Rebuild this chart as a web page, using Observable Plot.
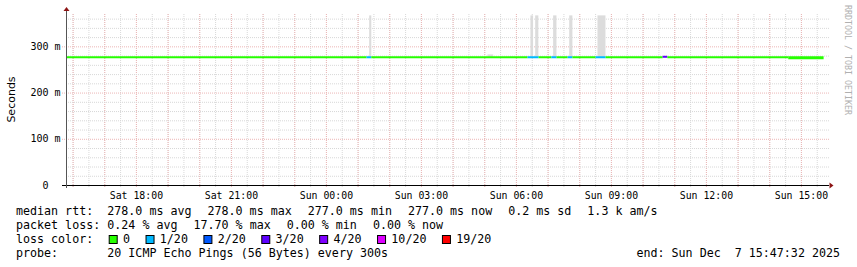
<!DOCTYPE html>
<html>
<head>
<meta charset="utf-8">
<script src="https://cdn.jsdelivr.net/npm/d3@7"></script>
<script src="https://cdn.jsdelivr.net/npm/@observablehq/plot@0.6"></script>
<style>
  html, body { margin: 0; padding: 0; background: #fff; }
  #wrap { width: 857px; height: 267px; position: relative; background: #fff; }
  svg text { white-space: pre; }
</style>
</head>
<body>
<div id="wrap"></div>
<script>
// ---------------- DATA ----------------
const startTime = "2025-12-06T15:47:32Z";
const endTime   = "2025-12-07T15:47:32Z";

// median rtt line: breakpoints, loss (pings lost of 20) and median (ms) per segment
const lineTimes = [
  "2025-12-06T15:49:00Z", "2025-12-07T01:17:00Z", "2025-12-07T01:26:00Z",
  "2025-12-07T06:22:00Z", "2025-12-07T06:43:00Z", "2025-12-07T07:07:00Z",
  "2025-12-07T07:17:00Z", "2025-12-07T07:38:00Z", "2025-12-07T07:47:00Z",
  "2025-12-07T08:31:00Z", "2025-12-07T08:50:00Z", "2025-12-07T10:38:00Z",
  "2025-12-07T10:47:00Z", "2025-12-07T14:36:00Z", "2025-12-07T15:43:00Z"
];
const segLoss   = [0, 1, 0, 1, 0, 1, 0, 1, 0, 1, 0, 3, 0, 0];
const segMedian = [277.5, 277.5, 277.5, 277.5, 277.5, 277.5, 277.5, 277.5, 277.5, 277.5, 277.5, 278.5, 277.5, 276.3];

// smoke (ping spread) in ms
const smokeStart = ["2025-12-07T01:22:00Z", "2025-12-07T05:06:00Z", "2025-12-07T06:27:30Z", "2025-12-07T06:36:30Z", "2025-12-07T07:10:30Z", "2025-12-07T07:41:00Z", "2025-12-07T08:34:30Z"];
const smokeEnd   = ["2025-12-07T01:26:00Z", "2025-12-07T05:17:00Z", "2025-12-07T06:32:30Z", "2025-12-07T06:42:30Z", "2025-12-07T07:16:50Z", "2025-12-07T07:47:00Z", "2025-12-07T08:49:40Z"];
const smokeLow   = [277.5, 277.5, 277.5, 277.5, 277.5, 277.5, 277.5];
const smokeHigh  = [367, 282.5, 367, 367, 367, 367, 367];

// axis ticks
const yTickValues = [0, 0.1, 0.2, 0.3];
const yTickLabels = ["0  ", "100 m", "200 m", "300 m"];
const xLabelTimes = ["2025-12-06T18:00:00Z", "2025-12-06T21:00:00Z", "2025-12-07T00:00:00Z", "2025-12-07T03:00:00Z", "2025-12-07T06:00:00Z", "2025-12-07T09:00:00Z", "2025-12-07T12:00:00Z", "2025-12-07T15:00:00Z"];
const yMinorGrid = [0.02, 0.04, 0.06, 0.08, 0.12, 0.14, 0.16, 0.18, 0.22, 0.24, 0.26, 0.28, 0.32, 0.34, 0.36];
const yMajorGrid = [0.1, 0.2, 0.3];

// legend
const lossKeys   = [0, 1, 2, 3, 4, 10, 19];
const lossLabels = ["0", "1/20", "2/20", "3/20", "4/20", "10/20", "19/20"];
const lossColors = ["#26ff00", "#00b8ff", "#0059ff", "#5e00ff", "#7e00ff", "#dd00ff", "#ff0000"];
const legendRows = [
  ["median rtt:", "278.0 ms avg", "278.0 ms max", "277.0 ms min", "277.0 ms now", "0.2 ms sd", "1.3 k am/s"],
  ["packet loss:", "0.24 % avg", "17.70 % max", "0.00 % min", "0.00 % now"],
  ["loss color:"],
  ["probe:", "20 ICMP Echo Pings (56 Bytes) every 300s"]
];
const endText = "end: Sun Dec  7 15:47:32 2025";
const yLabel = "Seconds";
const watermark = "RRDTOOL / TOBI OETIKER";

// ---------------- BUILD ----------------
const parse = s => new Date(s);
const t0 = parse(startTime), t1 = parse(endTime);
const colorOf = k => lossColors[lossKeys.indexOf(k)];

const segs = segLoss.map((l, i) => ({
  x1: parse(lineTimes[i]), x2: parse(lineTimes[i + 1]),
  y: segMedian[i] / 1000, loss: l, last: i === segLoss.length - 1
}));
const smoke = smokeStart.map((s, i) => ({
  x1: parse(s), x2: parse(smokeEnd[i]), y1: smokeLow[i] / 1000, y2: smokeHigh[i] / 1000
}));
const hourGrid = d3.utcHour.range(t0, t1);
const halfGrid = d3.utcMinute.every(30).range(t0, t1);
const fmt = d3.utcFormat("%a %H:%M");

const major = "#ecb6b6", minor = "#d8d8d8";

const plot = Plot.plot({
  width: 857, height: 200,
  marginLeft: 66, marginRight: 31, marginTop: 14, marginBottom: 15,
  style: { fontFamily: "DejaVu Sans Mono", fontSize: "10px", background: "white", color: "black", overflow: "visible" },
  x: { type: "utc", domain: [t0, t1] },
  y: { domain: [0, 0.37] },
  marks: [
    Plot.ruleX(halfGrid, { stroke: minor, strokeDasharray: "1,1", insetBottom: -3 }),
    Plot.ruleX(hourGrid, { stroke: major, strokeDasharray: "1,1", insetBottom: -3 }),
    Plot.ruleY(yMinorGrid, { stroke: minor, strokeDasharray: "1,1", insetRight: -3 }),
    Plot.ruleY(yMajorGrid, { stroke: major, strokeDasharray: "1,1", insetLeft: -4, insetRight: -3 }),
    Plot.rect(smoke, { x1: "x1", x2: "x2", y1: "y1", y2: "y2", fill: "#dcdcdc" }),
    Plot.ruleY(segs, { x1: "x1", x2: "x2", y: "y", stroke: d => colorOf(d.loss), strokeWidth: d => d.last ? 3 : 2 }),
    Plot.ruleY([0], { stroke: "black", insetLeft: -4, insetRight: -3 }),
    Plot.ruleX([t0], { stroke: "#555", insetTop: -3, insetBottom: -3 }),
    Plot.axisX({ ticks: xLabelTimes.map(parse), tickFormat: fmt, tickSize: 0, tickPadding: 6, fontSize: 9.85 }),
    Plot.axisY({ ticks: yTickValues, tickFormat: v => yTickLabels[yTickValues.indexOf(v)], tickSize: 0, tickPadding: 6, fontSize: 10 })
  ]
});
document.getElementById("wrap").appendChild(plot);

const xs = plot.scale("x"), ys = plot.scale("y");
const svg = d3.select(plot);
const xr = xs.apply(t1) + 3.5, yb = ys.apply(0) + 0.5;
const xl = xs.apply(t0) + 0.5, yt = ys.apply(0.37) - 3;
svg.append("path").attr("d", `M${xr},${yb - 3}L${xr + 4},${yb}L${xr},${yb + 3}Z`).attr("fill", "#8c1414");
svg.append("path").attr("d", `M${xl - 3},${yt}L${xl},${yt - 4}L${xl + 3},${yt}Z`).attr("fill", "#8c1414");
svg.append("text").text(yLabel)
  .attr("transform", `translate(14.5,${(ys.apply(0) + ys.apply(0.37)) / 2}) rotate(-90)`)
  .attr("text-anchor", "middle").attr("font-family", "DejaVu Sans").attr("font-size", 11).attr("fill", "black");
svg.append("text").text(watermark)
  .attr("transform", "translate(845,5) rotate(90)")
  .attr("text-anchor", "start")
  .attr("font-family", "DejaVu Sans Mono").attr("font-size", 8.3).attr("fill", "#b0b0b0");

// legend below
const leg = d3.select("#wrap").append("svg").attr("width", 857).attr("height", 67)
  .style("display", "block").attr("font-family", "DejaVu Sans Mono").attr("font-size", 11.67);
const baselines = [15, 29, 43, 57];
const colStart = 107.3, gap = 16;
legendRows.forEach((row, r) => {
  leg.append("text").attr("x", 16).attr("y", baselines[r]).text(row[0]);
  let x = colStart;
  row.slice(1).forEach(s => {
    const t = leg.append("text").attr("x", x).attr("y", baselines[r]).text(s);
    x += t.node().getComputedTextLength() + gap;
  });
});
let bx = 108.7;
lossLabels.forEach((lab, i) => {
  leg.append("rect").attr("x", bx + 0.5).attr("y", baselines[2] - 7.5).attr("width", 8).attr("height", 8)
    .attr("fill", lossColors[i]).attr("stroke", "black").attr("stroke-width", 1);
  const t = leg.append("text").attr("x", bx + 14.3).attr("y", baselines[2]).text(lab);
  bx = bx + 14.3 + t.node().getComputedTextLength() + 15.5;
});
leg.append("text").attr("x", 840).attr("y", baselines[3]).attr("text-anchor", "end").text(endText);
</script>
</body>
</html>
